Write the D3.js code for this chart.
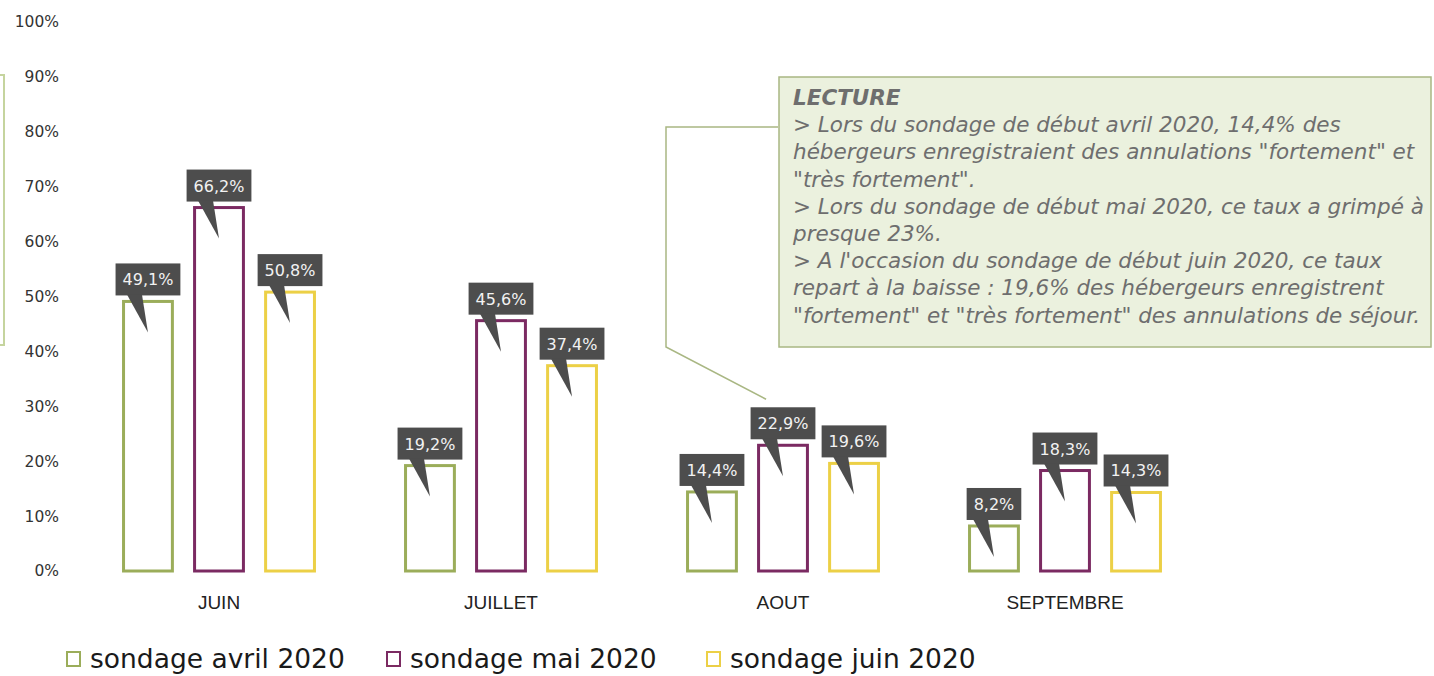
<!DOCTYPE html>
<html>
<head>
<meta charset="utf-8">
<script src="https://cdn.jsdelivr.net/npm/d3@7"></script>
<style>
  body { margin: 0; background: #fff; }
  svg { display: block; }
</style>
</head>
<body>
<div id="chart"></div>
<script>
var months = ['JUIN', 'JUILLET', 'AOUT', 'SEPTEMBRE'];
var surveys = ['sondage avril 2020', 'sondage mai 2020', 'sondage juin 2020'];
var avril = [49.1, 19.2, 14.4, 8.2];
var mai = [66.2, 45.6, 22.9, 18.3];
var juin = [50.8, 37.4, 19.6, 14.3];
var yTicks = [0, 10, 20, 30, 40, 50, 60, 70, 80, 90, 100];
var lecture = [
  '> Lors du sondage de début avril 2020, 14,4% des',
  'hébergeurs enregistraient des annulations "fortement" et',
  '"très fortement".',
  '> Lors du sondage de début mai 2020, ce taux a grimpé à',
  'presque 23%.',
  "> A l'occasion du sondage de début  juin 2020, ce taux",
  'repart à la baisse : 19,6% des hébergeurs enregistrent',
  '"fortement" et "très fortement" des annulations de séjour.'
];

var series = [avril, mai, juin];
var colors = ['#9bad5a', '#7b2a62', '#ecd046'];

var w = 1434, h = 676;

var y = d3.scaleLinear().domain([0, 100]).range([571, 22]);
var x0 = d3.scaleBand().domain(months).range([78, 1206]).padding(0);
var x1 = d3.scaleBand().domain(surveys).range([0, x0.bandwidth()])
  .paddingInner(0.27).paddingOuter(0.62);

var svg = d3.select('#chart').append('svg')
  .attr('width', w)
  .attr('height', h);

// left bracket (cut off callout)
svg.append('path')
  .attr('d', 'M0,75 H4 V345 H0')
  .attr('fill', 'none')
  .attr('stroke', '#c5d49e')
  .attr('stroke-width', 2);

// y axis labels
var yAxis = d3.axisLeft(y).tickValues(yTicks).tickSize(0).tickPadding(0)
  .tickFormat(function(d) { return d + '%'; });
var ya = svg.append('g').attr('transform', 'translate(59,0)').call(yAxis);
ya.select('.domain').remove();
ya.selectAll('text')
  .attr('font-family', 'DejaVu Sans, sans-serif')
  .attr('font-size', 15.5)
  .attr('fill', '#333');

// category labels
var xAxis = d3.axisBottom(x0).tickSize(0).tickPadding(0);
var xa = svg.append('g').attr('transform', 'translate(0,595)').call(xAxis);
xa.select('.domain').remove();
xa.selectAll('text')
  .attr('font-family', 'Liberation Sans, Arial, sans-serif')
  .attr('font-size', 19)
  .attr('fill', '#222');

// bars
var rows = [];
series.forEach(function(s, si) {
  s.forEach(function(v, mi) {
    rows.push({month: months[mi], survey: surveys[si], value: v, color: colors[si]});
  });
});

svg.append('g').selectAll('rect')
  .data(rows)
  .enter().append('rect')
    .attr('x', function(d) { return x0(d.month) + x1(d.survey) + 1.5; })
    .attr('y', function(d) { return y(d.value); })
    .attr('width', x1.bandwidth() - 3)
    .attr('height', function(d) { return y(0) - y(d.value); })
    .attr('fill', '#fff')
    .attr('stroke', function(d) { return d.color; })
    .attr('stroke-width', 3);

// callout connector to annotation
var tipX = x0('AOUT') + x1(surveys[1]) + 9;
svg.append('path')
  .attr('d', 'M778,127 H666 V347 L' + tipX + ',' + (y(22.9) - 46))
  .attr('fill', 'none')
  .attr('stroke', '#a9b783')
  .attr('stroke-width', 1.5);

// value labels with pointers
var labels = svg.append('g').selectAll('g')
  .data(rows)
  .enter().append('g');

labels.each(function(d) {
  var g = d3.select(this);
  var cx = x0(d.month) + x1(d.survey) + x1.bandwidth() / 2;
  var bottom = y(d.value) - 6;
  var txt = d.value.toFixed(1).replace('.', ',') + '%';
  var t = g.append('text')
    .attr('x', cx)
    .attr('y', bottom - 10)
    .attr('text-anchor', 'middle')
    .attr('font-family', 'DejaVu Sans, sans-serif')
    .attr('font-size', 16)
    .attr('fill', '#f2f2f2')
    .text(txt);
  var tw = t.node().getComputedTextLength();
  var bw = tw + 14;
  g.insert('rect', 'text')
    .attr('x', cx - bw / 2)
    .attr('y', bottom - 32)
    .attr('width', bw)
    .attr('height', 32)
    .attr('fill', '#4d4d4d');
  g.insert('path', 'text')
    .attr('d', 'M' + (cx - 21) + ',' + (bottom - 1) + ' L' + (cx - 6) + ',' + (bottom - 1) +
      ' L' + cx + ',' + (bottom + 37) + ' Z')
    .attr('fill', '#4d4d4d');
});

// annotation box
svg.append('rect')
  .attr('x', 779)
  .attr('y', 77)
  .attr('width', 652)
  .attr('height', 270)
  .attr('fill', '#ebf1de')
  .attr('stroke', '#a9b783')
  .attr('stroke-width', 1.5);

var note = svg.append('text')
  .attr('font-family', 'DejaVu Sans, sans-serif')
  .attr('font-style', 'italic')
  .attr('font-size', 21.5)
  .attr('fill', '#6e6e6e');
note.append('tspan')
  .attr('x', 793).attr('y', 105)
  .attr('font-weight', 'bold')
  .text('LECTURE');
lecture.forEach(function(line, i) {
  note.append('tspan')
    .attr('x', 793)
    .attr('y', 105 + 27.2 * (i + 1))
    .text(line);
});

// legend
var legX = [66, 386, 706];
var leg = svg.append('g').selectAll('g')
  .data(surveys)
  .enter().append('g')
    .attr('transform', function(d, i) { return 'translate(' + legX[i] + ',0)'; });
leg.append('rect')
  .attr('x', 1).attr('y', 652)
  .attr('width', 13).attr('height', 14)
  .attr('fill', '#fff')
  .attr('stroke', function(d, i) { return colors[i]; })
  .attr('stroke-width', 2);
leg.append('text')
  .attr('x', 24)
  .attr('y', 668)
  .attr('font-family', 'DejaVu Sans, sans-serif')
  .attr('font-size', 26.5)
  .attr('fill', '#1a1a1a')
  .text(function(d) { return d; });
</script>
</body>
</html>
